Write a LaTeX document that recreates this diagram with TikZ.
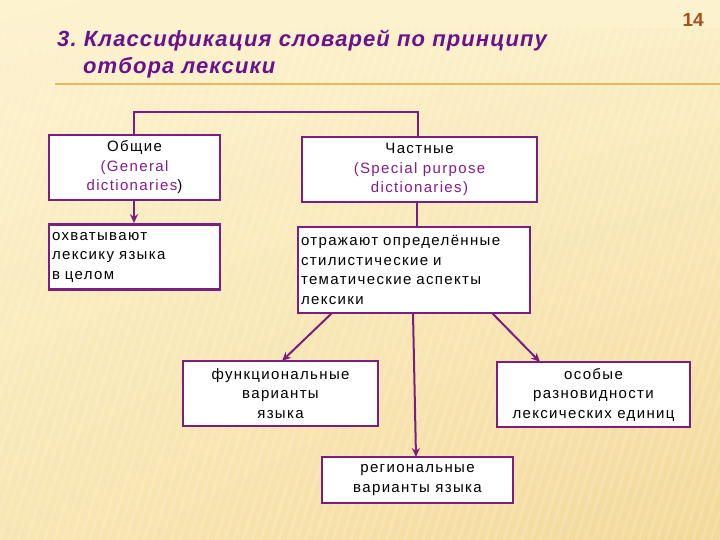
\documentclass[tikz,border=0pt]{standalone}
\usepackage{fontspec}
\setmainfont{Liberation Sans}
\newfontfamily\boxfont[LetterSpace=9]{Liberation Sans}
\newfontfamily\titlefont[LetterSpace=5]{Liberation Sans}
\usetikzlibrary{arrows.meta,shadings}
\frenchspacing
\definecolor{bgtop}{HTML}{FDF3CF}
\definecolor{bgbot}{HTML}{F3D99A}
\definecolor{bgmid}{HTML}{F8E6B2}
\definecolor{titlepurple}{HTML}{6A118E}
\definecolor{boxpurple}{HTML}{7A1F80}
\definecolor{txtpurple}{HTML}{8A1A8C}
\definecolor{numbrown}{HTML}{A8501C}
\definecolor{goldline}{HTML}{E2BB5C}
\tikzset{
  x=1pt,y=-1pt,
  dbox/.style={draw=boxpurple, line width=2.8pt, fill=white, inner sep=0pt, font=\boxfont\fontsize{15}{19.5}\selectfont},
  conn/.style={draw=boxpurple, line width=2pt},
  arr/.style={conn, -{Stealth[length=9pt,width=8pt]}},
  ttl/.style={anchor=base west, text=titlepurple, font=\titlefont\fontsize{22}{26}\selectfont\bfseries\itshape, inner sep=0pt},
}
\begin{document}
\begin{tikzpicture}
\useasboundingbox (0,0) rectangle (720,540);
% background
\shade[upper left=bgtop, upper right=bgtop!70!bgmid, lower left=bgmid, lower right=bgbot] (0,0) rectangle (720,540);
\fill[bgtop, opacity=0.8] (0,0) rectangle (720,28);
\begin{scope}
\clip (0,28) rectangle (720,540);
\foreach \i in {-30,...,90}{
  \draw[white, opacity=0.14, line width=3pt] (\i*9,540) -- (\i*9+160,28);
}
\end{scope}
% title underline
\draw[goldline, line width=2pt] (55,84) -- (720,84);
% title
\node[ttl] (t1) at (57,47) {3. Классификация словарей по принципу};
\node[ttl] (t2) at (83,74) {отбора лексики};
\node[anchor=base east, text=numbrown, font=\fontsize{19}{22}\selectfont\bfseries, inner sep=0pt] (num) at (704,27) {14};
% boxes
\node[dbox, minimum width=171pt, minimum height=65pt, align=center] (gen) at (134.5,167.5)
 {Общие\\\textcolor{txtpurple}{(General}\\\textcolor{txtpurple}{dictionaries})};
\node[dbox, minimum width=235pt, minimum height=65pt, align=center] (spec) at (419.5,169.5)
 {Частные\\\textcolor{txtpurple}{(Special purpose}\\\textcolor{txtpurple}{dictionaries)}};
\node[dbox, minimum width=171pt, minimum height=65pt, align=left, text width=165pt, inner xsep=3pt] (cover) at (134.5,257)
 {охватывают\\лексику языка\\в целом};
\node[dbox, minimum width=232pt, minimum height=86pt, align=left, text width=226pt, inner xsep=3pt] (refl) at (414,270)
 {отражают определённые\\стилистические и\\тематические аспекты\\лексики};
\node[dbox, minimum width=195pt, minimum height=65pt, align=center] (func) at (280.5,393.5)
 {функциональные\\варианты\\языка};
\node[dbox, minimum width=193pt, minimum height=65pt, align=center] (spv) at (593.5,394.5)
 {особые\\разновидности\\лексических единиц};
\node[dbox, minimum width=191pt, minimum height=46pt, align=center] (reg) at (417.5,480)
 {региональные\\варианты языка};
% connectors
\coordinate (topL) at (134,112);
\coordinate (topR) at (418,112);
\coordinate (midR) at (417,202);
\draw[conn] (gen.north -| topL) -- (topL) -- (topR) -- (spec.north -| topR);
\draw[arr] (gen.south -| topL) -- (cover.north -| topL);
\draw[conn] (spec.south -| midR) -- (refl.north -| midR);
\coordinate (a1s) at (332,313); \coordinate (a1e) at (282,361);
\coordinate (a2s) at (492,313); \coordinate (a2e) at (540,362);
\coordinate (a3s) at (413,313); \coordinate (a3e) at (416,457);
\draw[arr] (a1s) -- (a1e);
\draw[arr] (a2s) -- (a2e);
\draw[arr] (a3s) -- (a3e);
\end{tikzpicture}
\end{document}
